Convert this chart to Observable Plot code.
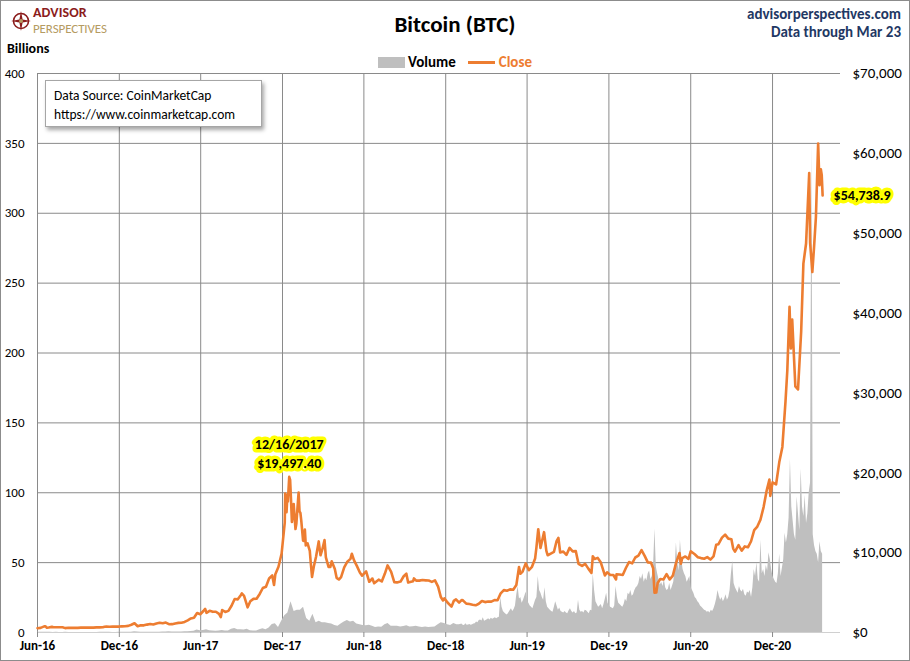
<!DOCTYPE html>
<html><head><meta charset="utf-8">
<script src="https://cdn.jsdelivr.net/npm/d3@7"></script>
<script src="https://cdn.jsdelivr.net/npm/@observablehq/plot@0.6"></script>
<style>
body{margin:0;background:#fff;}
#wrap{position:relative;width:910px;height:661px;overflow:hidden;font-family:Carlito,Lato,"Open Sans",sans-serif;background:#fff;}
#frame{position:absolute;left:0;top:0;width:908px;height:659px;border:1px solid #8c8c8c;pointer-events:none;}
#chart{position:absolute;left:0;top:0;}
.ov{position:absolute;white-space:nowrap;}
#title{left:0;width:910px;top:10px;text-align:center;font-size:23px;font-weight:bold;color:#000;}
#site{right:9px;top:5px;text-align:right;font-size:15px;font-weight:bold;color:#1F3864;line-height:18px;}
#billions{left:7px;top:40px;font-size:14px;font-weight:bold;}
#legend{left:378px;top:53px;font-size:15px;font-weight:bold;display:flex;align-items:center;}
#legend .sw{display:inline-block;width:27px;height:11px;background:#BFBFBF;margin-right:3px;}
#legend .ln{display:inline-block;width:27px;height:3px;background:#ED7D31;margin-left:12px;margin-right:4px;}
#source{left:45px;top:80px;width:217px;height:47px;border:1px solid #a6a6a6;background:#fff;box-shadow:2px 3px 4px rgba(0,0,0,0.35);font-size:13.5px;line-height:19px;padding:5px 0 0 8px;box-sizing:border-box;}
#logo{left:11px;top:5px;display:flex;align-items:flex-start;}
#logo .t1{font-size:14px;font-weight:bold;color:#8B1C1C;line-height:16px;letter-spacing:0.1px;}
#logo .t2{font-size:13px;color:#B59B62;line-height:16px;letter-spacing:-0.1px;}
</style></head>
<body>
<div id="wrap">
  <div id="chart"></div>
  <div class="ov" id="logo">
    <svg width="20" height="22" viewBox="-10 -11 20 22" style="margin-right:2px;margin-top:5px">
      <circle r="7.5" fill="none" stroke="#8B1C1C" stroke-width="1.6"/>
      <path d="M0,-10 L1.6,-1.6 L10,0 L1.6,1.6 L0,10 L-1.6,1.6 L-10,0 L-1.6,-1.6Z" fill="#8B1C1C"/>
      <circle r="2" fill="#B59B62"/>
    </svg>
    <div><div class="t1">ADVISOR</div><div class="t2">PERSPECTIVES</div></div>
  </div>
  <div class="ov" id="title">Bitcoin (BTC)</div>
  <div class="ov" id="site">advisorperspectives.com<br>Data through Mar 23</div>
  <div class="ov" id="billions">Billions</div>
  <div class="ov" id="legend"><span class="sw"></span><span>Volume</span><span class="ln"></span><span style="color:#ED7D31">Close</span></div>
  <div class="ov" id="source">Data Source: CoinMarketCap<br>https://www.coinmarketcap.com</div>
  <div id="frame"></div>
</div>
<script>
// ---------- axis ticks ----------
const leftTicks = [0, 50, 100, 150, 200, 250, 300, 350, 400];          // Billions
const rightTicks = [0, 10000, 20000, 30000, 40000, 50000, 60000, 70000]; // USD
const xTicks = ["2016-06-01","2016-12-01","2017-06-01","2017-12-01","2018-06-01","2018-12-01","2019-06-01","2019-12-01","2020-06-01","2020-12-01"];
const xDomain = ["2016-06-01","2021-05-02"];

// ---------- Close (USD), dates as MM-DD per year ----------
const d2016 = ["06-01","06-08","06-12","06-16","06-19","06-22","06-26","07-03","07-06","07-13","07-20","07-27","08-02","08-09","08-16","08-23","08-30","09-06","09-13","09-20","09-27","10-04","10-11","10-18","10-25","10-29","11-02","11-09","11-16","11-23","11-30","12-07","12-14","12-21","12-28"];
const c2016 = [537,581,672,766,764,596,629,704,677,655,665,655,547,587,581,583,577,611,608,609,606,610,640,637,652,716,741,723,744,740,742,767,780,829,975];
const d2017 = ["01-04","01-11","01-18","01-25","02-01","02-08","02-15","02-22","03-01","03-08","03-15","03-22","03-29","04-05","04-12","04-19","04-26","05-03","05-10","05-17","05-24","05-31","06-07","06-11","06-14","06-21","06-28","07-05","07-12","07-16","07-19","07-26","08-02","08-09","08-16","08-23","08-30","09-01","09-06","09-14","09-20","09-27","10-04","10-11","10-18","10-25","11-01","11-08","11-12","11-15","11-22","11-29","12-06","12-07","12-10","12-12","12-13","12-16","12-18","12-20","12-22","12-26","12-30"];
const c2017 = [1154,778,900,894,989,1062,1010,1126,1222,1151,1245,1040,1044,1135,1203,1219,1325,1528,1756,1839,2446,2286,2692,2958,2464,2711,2589,2601,2330,1929,2818,2576,2710,3343,4201,4151,4703,4892,4597,3154,3905,4209,4229,4829,5572,5737,6767,7145,5950,7301,8232,9889,13750,17390,15059,17276,16408,19497.4,19114,16624,13831,16099,12952];
const d2018 = ["01-01","01-06","01-08","01-10","01-12","01-16","01-18","01-20","01-22","01-26","01-31","02-02","02-05","02-09","02-14","02-20","02-24","02-28","03-05","03-08","03-14","03-18","03-21","03-28","04-01","04-06","04-11","04-18","04-25","05-02","05-05","05-10","05-16","05-23","05-28","06-06","06-13","06-20","06-24","07-04","07-11","07-18","07-24","08-01","08-08","08-14","08-22","08-29","09-04","09-08","09-19","09-21","09-26","10-03","10-10","10-17","10-24","10-31","11-07","11-14","11-20","11-25","11-28","12-05","12-14","12-19","12-24","12-31"];
const c2018 = [13657,17527,15170,14973,13980,11490,11474,12900,10903,11170,10221,8830,6955,8270,9494,11403,9666,10397,11573,9395,8206,8223,8917,7960,6844,6636,6945,8163,8864,9219,9858,9021,8370,7505,7118,7654,6350,6760,6173,6619,6386,7378,8404,7605,6305,6274,6377,7047,7361,6251,6413,6770,6501,6499,6565,6531,6505,6343,6533,5738,4452,4009,4278,3754,3243,3957,4143,3742];
const d2019 = ["01-06","01-09","01-16","01-23","01-30","02-06","02-13","02-20","02-27","03-06","03-13","03-20","03-27","04-03","04-10","04-17","04-24","05-01","05-08","05-14","05-17","05-22","05-29","06-05","06-12","06-19","06-22","06-26","07-01","07-09","07-14","07-17","07-24","07-31","08-06","08-10","08-14","08-21","08-28","09-04","09-11","09-18","09-24","10-02","10-09","10-16","10-23","10-26","10-30","11-06","11-13","11-22","11-27","12-04","12-11","12-17","12-18","12-25"];
const c2019 = [4076,4000,3616,3576,3471,3404,3600,3947,3807,3871,3862,4049,4030,4906,5308,5236,5400,5351,5951,8205,7363,7628,8659,7797,8230,9273,10700,12932,10577,12567,10257,9673,9880,10085,11450,11862,10017,10131,9716,10594,10160,10187,8596,8344,8596,8000,7467,9551,9205,9342,8762,7146,7537,7192,7202,6640,7276,7255];
const d2020 = ["01-01","01-08","01-15","01-22","01-29","02-05","02-12","02-19","02-26","03-04","03-09","03-12","03-16","03-19","03-25","04-01","04-08","04-15","04-22","04-29","05-07","05-10","05-13","05-20","05-27","06-01","06-10","06-17","06-24","07-01","07-08","07-15","07-22","07-28","08-02","08-10","08-17","08-24","08-31","09-04","09-08","09-16","09-23","09-30","10-07","10-14","10-21","10-28","11-04","11-11","11-18","11-24","11-26","12-01","12-09","12-16","12-23","12-30"];
const c2020 = [7200,8079,8821,8657,9392,9613,10326,9593,8785,8755,8034,4971,5014,6191,6693,6640,7302,6640,7129,8659,9951,8601,9311,9522,9205,10167,9790,9427,9314,9232,9436,9132,9530,10990,11053,11878,12254,11754,11680,10511,10131,10939,10246,10784,10669,11429,12823,13271,14133,15702,17804,19157,17108,18803,18560,21310,23241,28949];
const d2021 = ["01-03","01-08","01-11","01-14","01-21","01-27","02-03","02-08","02-14","02-21","02-23","02-28","03-04","03-08","03-13","03-16","03-19","03-21","03-23"];
const c2021 = [32782,40797,35566,39187,30826,30432,37665,46196,48717,57539,48824,45137,48374,52000,61243,56000,58000,57300,54738.9];

// ---------- Volume (Billions USD) ----------
const volStartA = "2016-06-01", volStepA = 7;   // weekly samples
const volA = [0.10,0.15,0.25,0.20,0.12, 0.08,0.09,0.07,0.07,0.10, 0.07,0.06,0.05,0.06,0.06, 0.05,0.06,0.06,0.06,0.07,
  0.09,0.10,0.12,0.09,0.08, 0.08,0.09,0.10,0.12,0.15,0.20, 0.45,0.30,0.14,0.13, 0.15,0.15,0.14,0.20,0.25,
  0.30,0.30,0.45,0.30,0.30, 0.30,0.30,0.45,0.55,0.75, 0.95,1.8,1.2,1.4,2.0, 1.3,1.0,0.9,1.1,1.5,
  1.0,1.1,2.3,2.8,2.0, 2.0,1.8,2.4,1.3,1.0, 1.0,2.0,2.6,1.9,3.2, 5.8,6.3,3.6,8.0,12,
  14,22,15,16,16, 18,10,8,13,7, 8,7,7,6.5,6, 5,4.5,6,7.5,8.5, 7.5,8,6,5.5,5, 4.8,5.2,4.5,3.5,4,
  3.7,5.5,6.5,4.5,4.5, 4.5,4,4.3,4.8,4.0, 4.2,4.4,4.0,3.6,3.9, 3.5,3.8,4.0,5.5,7.0, 6.5,5.5,5.0,6.5,5.5];
const volStartB = "2018-12-31", volStepB = 3;   // 3-day samples
const volB = [5.5,5.8,6.0,5.2,5.0,6.3,5.1,5.4,5.8,5.2,
  5.5,6.1,6.3,7.5,7.0,8.5,9.0,8.2,10.5,8.0,
  8.5,9.2,9.8,9.0,10.2,9.5,10.0,10.5,9.8,10.5,
  11.0,25.0,18.0,15.0,14.0,13.0,12.5,14.0,15.5,17.0,
  15.0,16.5,19.0,27.0,33.0,24.0,25.0,21.0,23.0,26.0,
  29.0,22.0,21.0,19.0,18.0,17.0,20.0,23.0,25.0,40.0,
  30.0,28.0,25.0,23.0,32.0,22.0,18.0,17.0,16.0,15.0,
  14.5,18.0,22.0,19.0,16.0,17.5,15.0,14.5,14.0,15.0,
  14.0,13.5,15.5,17.0,15.0,14.0,15.0,13.5,14.0,23.0,
  16.0,14.5,15.0,14.0,16.0,15.5,14.5,13.5,16.0,15.5,
  42.0,30.0,22.0,20.0,18.0,19.0,20.0,17.0,20.0,24.0,
  28.0,21.0,19.0,18.0,17.5,17.0,19.0,33.0,25.0,21.0,
  20.0,19.0,18.0,20.0,24.0,22.0,28.0,27.0,30.0,26.0,
  27.0,30.0,32.0,33.0,35.0,40.0,38.0,42.0,36.0,39.0,
  37.0,42.0,44.0,38.0,40.0,48.0,74.0,47.0,42.0,38.0,
  34.0,36.0,33.0,38.0,32.0,30.0,31.0,35.0,30.0,33.0,
  36.0,45.0,64.0,50.0,44.0,66.0,52.0,45.0,42.0,40.0,
  36.0,38.0,40.0,32.0,30.0,28.0,25.0,24.0,22.0,21.0,
  19.0,18.0,17.0,16.0,15.5,14.5,15.0,14.0,16.0,15.0,
  17.0,20.0,24.0,30.0,26.0,23.0,25.0,22.0,24.0,27.0,
  23.0,25.0,30.0,42.0,51.0,35.0,32.0,30.0,28.0,33.0,
  30.0,29.0,31.0,27.0,26.0,29.0,28.0,30.0,25.0,32.0,
  45.0,40.0,50.0,38.0,36.0,66.0,42.0,45.0,40.0,48.0,
  44.0,57.0,52.0,45.0,40.0,38.0,36.0,35.0,42.0,56.0,
  40.0,46.0,52.0,71.0,64.0,70.0,82.0,124.0,90.0,80.0,
  70.0,66.0,97.0,85.0,73.0,117.0,90.0,83.0,98.0,78.0,
  85.0,100.0,107.0,350.0,70.0,62.0,58.0,56.0,50.0,65.0,
  58.0,56.0];

// ---------- annotations ----------
const peakDate = "2017-12-16", peakValue = 19497.40;
const lastDate = "2021-03-23", lastValue = 54738.9;

// ---------- build tables ----------
const ratio = rightTicks[rightTicks.length-1] / leftTicks[leftTicks.length-1]; // USD per billion-unit
const years = [[2016,d2016,c2016],[2017,d2017,c2017],[2018,d2018,c2018],[2019,d2019,c2019],[2020,d2020,c2020],[2021,d2021,c2021]];
const close = years.flatMap(([y, ds, cs]) => ds.map((md, i) => ({date: new Date(`${y}-${md}`), v: cs[i] / ratio})));
const volume = [
  ...volA.map((v, i) => ({date: d3.utcDay.offset(new Date(volStartA), i*volStepA), v})),
  ...volB.map((v, i) => ({date: d3.utcDay.offset(new Date(volStartB), i*volStepB), v}))
];
const peak = [{date: new Date(peakDate), v: peakValue/ratio,
  label: d3.utcFormat("%m/%d/%Y")(new Date(peakDate)) + "\n$" + d3.format(",.2f")(peakValue)}];
const last = [{date: new Date(lastDate), v: lastValue/ratio, label: "$" + d3.format(",.1f")(lastValue)}];

const FONT = 'Carlito, Lato, "Open Sans", sans-serif';
const GRID = "#8a8a8a";
const xTickDates = xTicks.map(d => new Date(d));

const chart = Plot.plot({
  width: 910, height: 661,
  marginLeft: 37, marginRight: 70, marginTop: 73, marginBottom: 29,
  style: {fontFamily: FONT, fontSize: "13px", color: "#000", background: "transparent"},
  x: {type: "utc", domain: xDomain.map(d => new Date(d)), label: null, axis: null},
  y: {domain: [leftTicks[0], leftTicks[leftTicks.length-1]], label: null, axis: null},
  marks: [
    Plot.gridY(leftTicks, {stroke: GRID, strokeOpacity: 1, strokeWidth: 1}),
    Plot.gridX(xTickDates, {stroke: GRID, strokeOpacity: 1, strokeWidth: 1}),
    Plot.areaY(volume, {x: "date", y: "v", fill: "#BFBFBF", curve: "linear"}),
    Plot.ruleY([0], {stroke: "#d0d0d0"}),
    Plot.line(close, {x: "date", y: "v", stroke: "#000", strokeOpacity: 0.28, strokeWidth: 3, dx: 2, dy: 3, ariaLabel: "shadow"}),
    Plot.line(close, {x: "date", y: "v", stroke: "#ED7D31", strokeWidth: 2.6, strokeLinejoin: "round"}),
    Plot.axisX(xTickDates, {tickFormat: d3.utcFormat("%b-%y"), tickSize: 5, tickPadding: 3, fontSize: 13, fontWeight: "bold", label: null}),
    Plot.axisY(leftTicks, {anchor: "left", tickSize: 0, tickPadding: 13, fontSize: 13, label: null}),
    Plot.axisY(rightTicks.map(v => v/ratio), {anchor: "right", tickSize: 0, tickPadding: 12, fontSize: 15, label: null,
      tickFormat: d => "$" + d3.format(",")(Math.round(d*ratio))}),
    Plot.text(peak, {x: "date", y: "v", text: "label", dy: -9, lineAnchor: "bottom", lineHeight: 1.35,
      fontSize: 14, fontWeight: "bold", fill: "#000", stroke: "#FFFF00", strokeWidth: 7, strokeLinejoin: "round"}),
    Plot.text(last, {x: "date", y: "v", text: "label", dx: 11, textAnchor: "start",
      fontSize: 14, fontWeight: "bold", fill: "#000", stroke: "#FFFF00", strokeWidth: 7, strokeLinejoin: "round"})
  ]
});
document.getElementById("chart").appendChild(chart);
const sel = d3.select(chart);
sel.append("defs").html('<filter id="shblur" x="-10%" y="-10%" width="120%" height="120%"><feGaussianBlur stdDeviation="1.2"/></filter>');
sel.selectAll('g[aria-label="shadow"]').attr("filter", "url(#shblur)");
sel.selectAll('g[aria-label="x-axis tick"]').attr("stroke", GRID);
sel.selectAll('g[aria-label="x-axis tick label"]').attr("font-weight", "bold");
</script>
</body></html>
